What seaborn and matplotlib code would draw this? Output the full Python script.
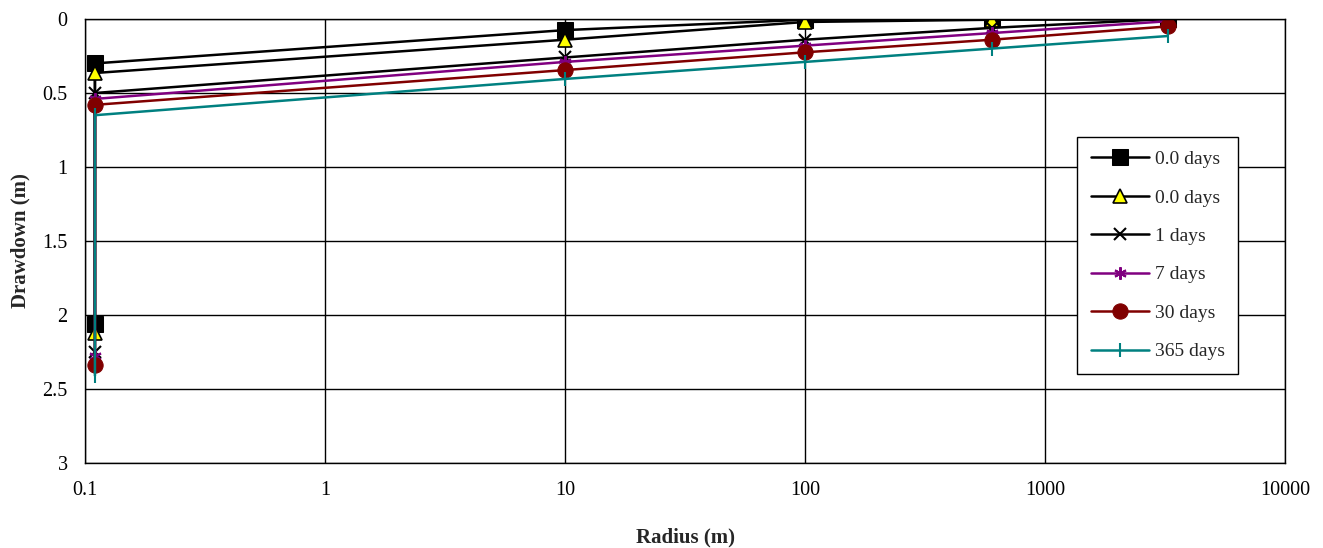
import matplotlib
matplotlib.use("Agg")
import matplotlib.pyplot as plt
import seaborn as sns
import numpy as np
import pandas as pd
from matplotlib.ticker import FixedLocator, FixedFormatter, NullLocator

sns.set_style("white")
plt.rcParams['font.family'] = ['Liberation Serif', 'DejaVu Serif']

radius = [0.11, 0.11, 10, 100, 600, 3250]
labels = ["0.0 days", "0.0 days", "1 days", "7 days", "30 days", "365 days"]
s1 = [2.06, 0.30, 0.075, 0.005, 0.0, 0.0]
s2 = [2.12, 0.365, 0.14, 0.02, 0.005, 0.0]
s3 = [2.25, 0.50, 0.26, 0.14, 0.06, 0.0]
s4 = [2.28, 0.54, 0.29, 0.18, 0.095, 0.015]
s5 = [2.34, 0.58, 0.345, 0.225, 0.14, 0.05]
s6 = [2.41, 0.65, 0.405, 0.29, 0.20, 0.115]
series = [s1, s2, s3, s4, s5, s6]

styles = [
    dict(color="black", marker="s", markersize=11, markerfacecolor="black", markeredgecolor="black"),
    dict(color="black", marker="^", markersize=9.5, markerfacecolor="yellow", markeredgecolor="black", markeredgewidth=1.2),
    dict(color="black", marker="x", markersize=9, markeredgewidth=1.5, markeredgecolor="black"),
    dict(color="#800080", marker=(6, 2, 0), markersize=9, markeredgewidth=1.5, markeredgecolor="#800080"),
    dict(color="#800000", marker="o", markersize=11, markerfacecolor="#800000", markeredgecolor="#800000"),
    dict(color="#008080", marker="|", markersize=10, markeredgewidth=1.5, markeredgecolor="#008080"),
]

fig = plt.figure(figsize=(13.23, 5.48), dpi=100)
ax = fig.add_axes([85/1323, (548-463)/548, 1200/1323, 444/548])

for vals, lab, st in zip(series, labels, styles):
    df = pd.DataFrame({"Radius": radius, "Drawdown": vals})
    sns.lineplot(data=df, x="Radius", y="Drawdown", sort=False, estimator=None,
                 ax=ax, label=lab, linewidth=1.8, **st)

ax.set_xscale("log")
ax.set_xlim(0.1, 10000)
ax.set_ylim(3, 0)
xt = [0.1, 1, 10, 100, 1000, 10000]
ax.xaxis.set_major_locator(FixedLocator(xt))
ax.xaxis.set_major_formatter(FixedFormatter(["0.1", "1", "10", "100", "1000", "10000"]))
ax.xaxis.set_minor_locator(NullLocator())
yt = [0, 0.5, 1, 1.5, 2, 2.5, 3]
ax.set_yticks(yt)
ax.set_yticklabels(["0", "0.5", "1", "1.5", "2", "2.5", "3"])
ax.tick_params(axis="both", labelsize=14.5, colors="black", length=5.5, width=1, direction="out")
ax.tick_params(axis="x", pad=7.5)
ax.tick_params(axis="y", pad=7)
ax.grid(True, which="major", color="black", linewidth=1)
for side in ["left", "bottom", "top", "right"]:
    ax.spines[side].set_visible(True)
    ax.spines[side].set_color("black")
    ax.spines[side].set_linewidth(1)

ax.set_xlabel("Radius (m)", fontsize=15, fontweight="bold")
ax.set_ylabel("Drawdown (m)", fontsize=15, fontweight="bold")
ax.xaxis.set_label_coords(0.5, -(527 - 463) / 444)
ax.yaxis.set_label_coords((30 - 85) / 1200, 0.5)

leg = ax.legend(loc="upper left", bbox_to_anchor=((1077 - 85) / 1200, 1 - (137 - 19) / 444),
                fontsize=14, labelspacing=1.07, handlelength=3.0, borderpad=0.7,
                frameon=True, fancybox=False, framealpha=1, edgecolor="black",
                handletextpad=0.3, borderaxespad=0)
leg.get_frame().set_linewidth(1)

fig.savefig("out.png", dpi=100)
